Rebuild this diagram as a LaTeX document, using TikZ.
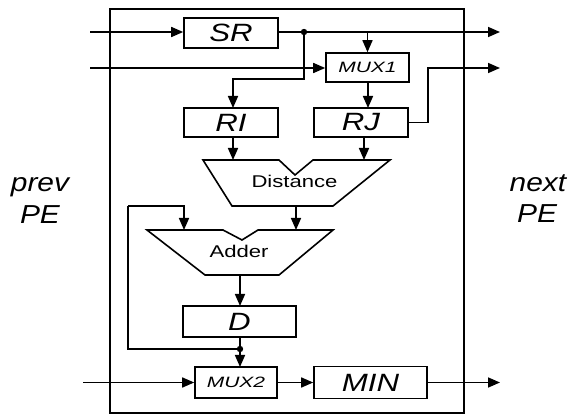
\documentclass[tikz,border=0pt]{standalone}
\usepackage{fontspec}
\setmainfont{Liberation Sans}
\usepackage{graphicx}
\usetikzlibrary{arrows.meta}
\newcommand{\boxlbl}[1]{\scalebox{1.25}[1]{\fontsize{25}{25}\selectfont\itshape #1}}
\newcommand{\muxl}[1]{\scalebox{1.4}[1]{\fontsize{15}{15}\selectfont\itshape #1}}
\newcommand{\unitl}[1]{\scalebox{1.3}[1]{\fontsize{17}{17}\selectfont #1}}
\newcommand{\pel}[1]{\scalebox{1.15}[1]{\fontsize{26}{26}\selectfont\itshape #1}}
\begin{document}
\begin{tikzpicture}[x=1pt,y=-1pt,
  wire/.style={line width=1.6pt},
  arr/.style={line width=1.6pt,-{Triangle[length=12pt,width=10pt]}},
  blk/.style={draw,line width=1.6pt,inner sep=0pt},
  lbl/.style={inner sep=0pt,anchor=base}]
\useasboundingbox (0,0) rectangle (574,417);
\fill[white] (0,0) rectangle (574,417);
% outer PE box
\draw[line width=1.6pt] (110,9) rectangle (464,413);
% boxes
\node[blk,minimum width=94pt,minimum height=30pt] (SR) at (231,33) {\boxlbl{SR}};
\node[blk,minimum width=83pt,minimum height=29pt] (MUX1) at (367.5,67.5) {\muxl{MUX1}};
\node[blk,minimum width=94pt,minimum height=29pt] (RI) at (231,122.5) {\boxlbl{RI}};
\node[blk,minimum width=94pt,minimum height=29pt] (RJ) at (361,122.5) {\boxlbl{RJ}};
\node[blk,minimum width=113pt,minimum height=31pt] (D) at (239.5,321.5) {\boxlbl{D}};
\node[blk,minimum width=82pt,minimum height=31pt] (MUX2) at (236,382.5) {\muxl{MUX2}};
\node[blk,minimum width=113pt,minimum height=32pt] (MIN) at (370.5,382.5) {\boxlbl{MIN}};
% Distance trapezoid
\draw[line width=1.6pt,line join=miter] (203,160) -- (279,160) -- (295,175) -- (313,160) -- (390,160) -- (333,206) -- (232,206) -- cycle;
\node[lbl] (Dist) at (294.5,188) {\unitl{Distance}};
% Adder trapezoid
\draw[line width=1.6pt,line join=miter] (147,230) -- (223,230) -- (242,240) -- (258,230) -- (333,230) -- (279,275) -- (205,275) -- cycle;
\node[lbl] (Add) at (239,258) {\unitl{Adder}};
% coordinates
\coordinate (inA) at (90,32);
\coordinate (inB) at (90,68);
\coordinate (inC) at (83,382.5);
\coordinate (dot1) at (304,32);
\coordinate (outA) at (500,32);
\coordinate (outB) at (500,68);
\coordinate (outC) at (500,382.5);
\coordinate (distTL) at (233,160);
\coordinate (distTR) at (364,160);
\coordinate (distB) at (296,206);
\coordinate (addT) at (296,230);
\coordinate (addTL) at (184,230);
\coordinate (addB) at (240,275);
\coordinate (fbTop) at (128,206);
\coordinate (dot2) at (240,349);
% connectors
\draw[arr] (inA) -- (SR.west |- inA);
\draw[arr] (inB) -- (MUX1.west |- inB);
\draw[arr] (SR.east |- inA) -- (outA);
\fill (dot1) circle (3.2pt);
\draw[arr] (MUX1.north |- inA) -- (MUX1.north);
\draw[arr] (dot1) -- (304,79) -- (233,79) -- (233,108);
\draw[arr] (368,82) -- (368,108);
\draw[arr] (RJ.east) -- (428,122.5) -- (428,68) -- (outB);
\draw[arr] (233,137) -- (distTL);
\draw[arr] (364,137) -- (distTR);
\draw[arr] (distB) -- (addT);
\draw[arr] (fbTop) -- (184,206) -- (addTL);
\draw[wire] (fbTop) -- (128,349) -- (dot2);
\draw[arr] (addB) -- (240,306);
\draw[arr] (240,337) -- (240,367);
\fill (dot2) circle (3.2pt);
\draw[arr] (inC) -- (MUX2.west);
\draw[arr] (MUX2.east) -- (MIN.west);
\draw[arr] (MIN.east) -- (outC);
% side labels
\node[lbl] (prev) at (40,192) {\pel{prev}};
\node[lbl] (pe1) at (40,224) {\pel{PE}};
\node[lbl] (next) at (538,192) {\pel{next}};
\node[lbl] (pe2) at (537,223) {\pel{PE}};
\end{tikzpicture}
\end{document}
